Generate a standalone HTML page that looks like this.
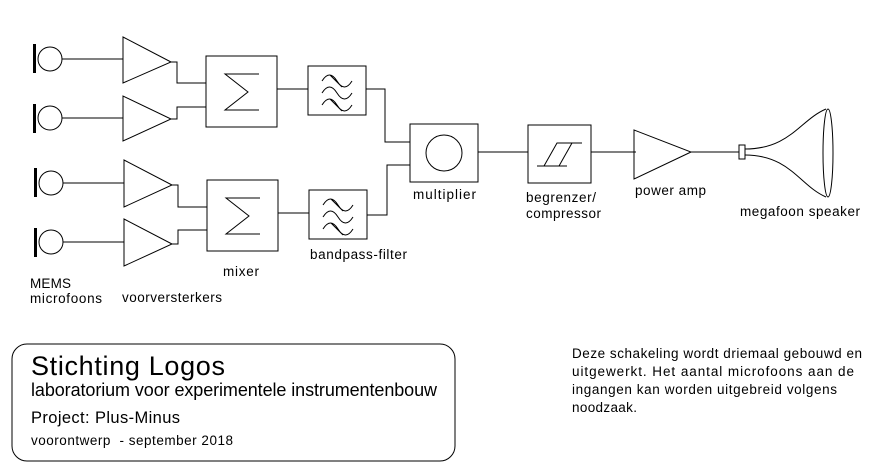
<!DOCTYPE html>
<html><head><meta charset="utf-8"><style>
html,body{margin:0;padding:0;background:#fff;}
svg{display:block;}
text{font-family:"Liberation Sans",sans-serif;fill:#000;}
</style></head><body>
<svg width="877" height="476" viewBox="0 0 877 476" xmlns="http://www.w3.org/2000/svg">
<g fill="none" stroke="#000" stroke-width="1">
<rect x="33" y="44" width="3" height="29" fill="#000" stroke="none"/>
<circle cx="50" cy="59" r="12"/><line x1="62" y1="59" x2="123" y2="59"/>
<rect x="33" y="104" width="3" height="29" fill="#000" stroke="none"/>
<circle cx="50" cy="118" r="12"/><line x1="62" y1="118" x2="123" y2="118"/>
<rect x="34" y="168" width="3" height="29" fill="#000" stroke="none"/>
<circle cx="51" cy="183" r="12"/><line x1="63" y1="183" x2="124" y2="183"/>
<rect x="34" y="228" width="3" height="29" fill="#000" stroke="none"/>
<circle cx="51" cy="242" r="12"/><line x1="63" y1="242" x2="124" y2="242"/>
<polygon points="123,37 123,83 171,62"/>
<polygon points="123,96 123,141 171,119"/>
<polygon points="124,160 124,207 172,185"/>
<polygon points="124,219 124,266 172,244"/>
<polyline points="171,62 177,62 177,83 206,83"/>
<polyline points="171,119 177,119 177,107 206,107"/>
<polyline points="172,185 178,185 178,207 207,207"/>
<polyline points="172,244 178,244 178,230 207,230"/>
<rect x="206" y="56" width="71" height="71"/>
<polyline points="259,74 225,74 248,92 225,110 259,110"/>
<rect x="207" y="180" width="71" height="71"/>
<polyline points="260,198 226,198 249,216 226,234 260,234"/>
<line x1="277" y1="89" x2="308" y2="89"/>
<line x1="278" y1="213" x2="309" y2="213"/>
<rect x="308" y="66" width="58" height="49"/>
<path d="M322,81 q7.5,-12 15,0 t15,0 M322,93 q7.5,-12 15,0 t15,0 M322,105 q7.5,-12 15,0 t15,0 M330,75 l12,12 M330,99 l12,12"/>
<rect x="309" y="190" width="58" height="49"/>
<path d="M323,205 q7.5,-12 15,0 t15,0 M323,217 q7.5,-12 15,0 t15,0 M323,229 q7.5,-12 15,0 t15,0 M331,199 l12,12 M331,223 l12,12"/>
<polyline points="366,89 385,89 385,142 410,142"/>
<polyline points="367,215 387,215 387,165 410,165"/>
<rect x="410" y="124" width="68" height="58"/>
<circle cx="444" cy="153" r="18"/>
<line x1="478" y1="152" x2="528" y2="152"/>
<rect x="528" y="125" width="63" height="58"/>
<polyline points="582,143 557,143 544,166"/>
<polyline points="537,166 567,166"/>
<line x1="572" y1="143" x2="559" y2="166"/>
<line x1="591" y1="152" x2="636" y2="152"/>
<polygon points="634,130 634,179 691,152"/>
<line x1="691" y1="152" x2="739" y2="152"/>
<rect x="739" y="145" width="6" height="14"/>
<path d="M745,149 C790,149 800,120 826,109"/>
<path d="M745,155 C790,155 800,186 826,197"/>
<ellipse cx="828" cy="153" rx="5" ry="44"/>
<rect x="12" y="344" width="443" height="117" rx="15" ry="15"/>
</g>
<g font-size="13.5">
<text x="30" y="288" textLength="41">MEMS</text>
<text x="30" y="303" textLength="72">microfoons</text>
<text x="122" y="302" textLength="100">voorversterkers</text>
<text x="223" y="276" textLength="36">mixer</text>
<text x="310" y="259" textLength="97">bandpass-filter</text>
<text x="413" y="199" textLength="63">multiplier</text>
<text x="526" y="202" textLength="70">begrenzer/</text>
<text x="526" y="218" textLength="75">compressor</text>
<text x="635" y="195" textLength="71">power amp</text>
<text x="740" y="216" textLength="120">megafoon speaker</text>
<text x="572" y="358" textLength="290">Deze schakeling wordt driemaal gebouwd en</text>
<text x="572" y="376" textLength="282">uitgewerkt. Het aantal microfoons aan de</text>
<text x="572" y="394" textLength="265">ingangen kan worden uitgebreid volgens</text>
<text x="572" y="412" textLength="65">noodzaak.</text>
</g>
<text x="31" y="375" font-size="27" textLength="194">Stichting Logos</text>
<text x="31" y="396" font-size="18" textLength="406">laboratorium voor experimentele instrumentenbouw</text>
<text x="31" y="423" font-size="16.5" textLength="149">Project: Plus-Minus</text>
<text x="31" y="445" font-size="13.5" textLength="202">voorontwerp&#160; - september 2018</text>
</svg>
</body></html>
